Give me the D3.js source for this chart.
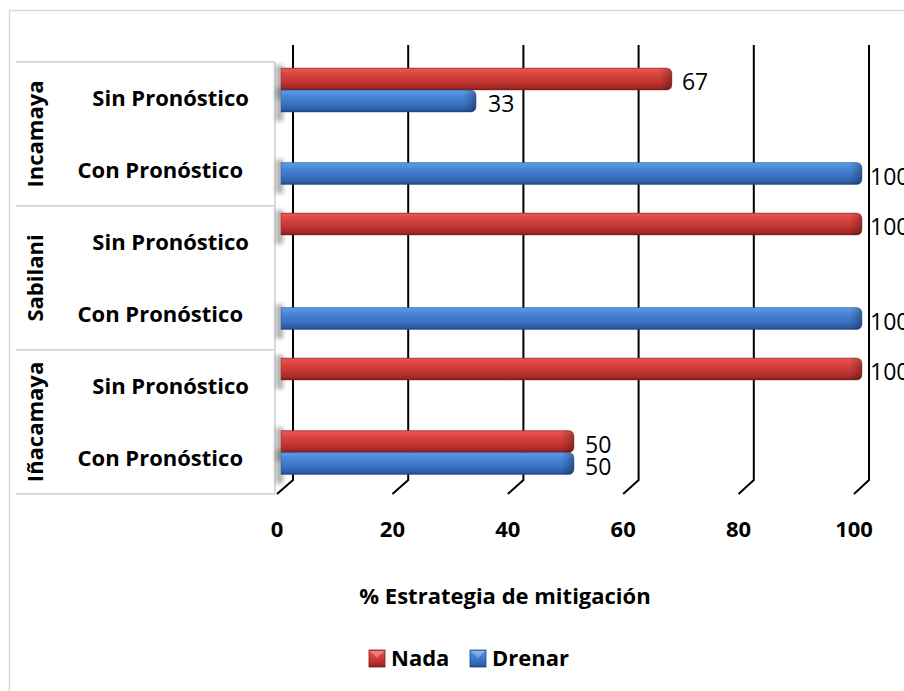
<!DOCTYPE html>
<html>
<head>
<meta charset="utf-8">
<script src="https://cdn.jsdelivr.net/npm/d3@7"></script>
<style>
  html, body { margin: 0; padding: 0; background: #ffffff; }
  svg { display: block; }
</style>
</head>
<body>
<svg id="chart" width="904" height="691"></svg>
<script>
// ---- data ----
const groups = ["Incamaya", "Sabilani", "Iñacamaya"];
const scenarios = ["Sin Pronóstico", "Con Pronóstico"];
const seriesNames = ["Nada", "Drenar"];
// one value per (group, scenario) row, top to bottom; null = no bar
const nadaValues = [67, null, 100, null, 100, 50];
const drenarValues = [33, 100, null, 100, null, 50];
const tickValues = [0, 20, 40, 60, 80, 100];
const axisTitle = "% Estrategia de mitigación";

const rows = [];
groups.forEach((g, gi) => scenarios.forEach((s, si) => {
  rows.push({ key: g + "|" + s, group: g, scenario: s, idx: gi * 2 + si });
}));
rows.forEach(r => {
  r.Nada = nadaValues[r.idx];
  r.Drenar = drenarValues[r.idx];
});

const svg = d3.select("#chart");
const FONT = "'Open Sans', 'Noto Sans', sans-serif";

// ---- defs: gradients and blur ----
const defs = svg.append("defs");
const palette = {
  Nada:   [["0%", "#c9403e"], ["7%", "#e65452"], ["30%", "#d8433f"], ["65%", "#c23532"], ["88%", "#a22826"], ["100%", "#7c1c1b"]],
  Drenar: [["0%", "#4a86d6"], ["7%", "#5a98e6"], ["30%", "#4684d6"], ["65%", "#3a71c2"], ["88%", "#2e5da6"], ["100%", "#214682"]]
};
Object.entries(palette).forEach(([name, stops]) => {
  const g = defs.append("linearGradient").attr("id", "grad-" + name)
    .attr("x1", 0).attr("y1", 0).attr("x2", 0).attr("y2", 1);
  stops.forEach(([o, c]) => g.append("stop").attr("offset", o).attr("stop-color", c));
});
const cap = defs.append("linearGradient").attr("id", "capShade")
  .attr("x1", 0).attr("y1", 0).attr("x2", 1).attr("y2", 0);
cap.append("stop").attr("offset", "0%").attr("stop-color", "#000").attr("stop-opacity", 0);
cap.append("stop").attr("offset", "100%").attr("stop-color", "#000").attr("stop-opacity", 0.28);
defs.append("filter").attr("id", "soft").attr("x", "-200%").attr("y", "-50%")
  .attr("width", "500%").attr("height", "200%")
  .append("feGaussianBlur").attr("stdDeviation", 2.2);

// ---- scales ----
const xBack = d3.scaleLinear().domain([0, 100]).range([293, 869]);   // back wall gridlines
const xFront = d3.scaleLinear().domain([0, 100]).range([277, 854]);  // floor front edge
const xBar = d3.scaleLinear().domain([0, 100]).range([286, 862]);    // bar ends
const xLabel = d3.scaleLinear().domain([0, 100]).range([300, 870]);  // value labels
const yRow = d3.scaleBand().domain(rows.map(r => r.key)).range([62, 494]);
const yBarRow = d3.scaleBand().domain(rows.map(r => r.key)).range([62, 497]);
const ySeries = d3.scaleBand().domain(seriesNames).range([6, 50]);

const gridTop = 45, gridBottom = 480, floorY = 494;
const barStart = xBar(0) - 5;

// ---- chart frame ----
svg.append("rect").attr("x", 9.5).attr("y", 10.5).attr("width", 1000).attr("height", 1000)
  .attr("fill", "none").attr("stroke", "#d9d9d9").attr("stroke-width", 1.5);

// ---- category table ----
const table = svg.append("g").attr("stroke", "#d9d9d9").attr("stroke-width", 2);
const groupEdges = [0, 2, 4].map(i => yRow(rows[i].key)).concat([yRow.range()[1]]);
table.selectAll("line.h").data(groupEdges).join("line")
  .attr("x1", 16).attr("x2", 275).attr("y1", d => d).attr("y2", d => d);
table.append("line").attr("x1", 275).attr("x2", 275)
  .attr("y1", yRow.range()[0]).attr("y2", yRow.range()[1]);

// ---- gridlines (back wall + floor diagonal) ----
svg.append("g").selectAll("path").data(tickValues).join("path")
  .attr("d", v => `M${xBack(v)},${gridTop}L${xBack(v)},${gridBottom}L${xFront(v)},${floorY}`)
  .attr("fill", "none").attr("stroke", "#000").attr("stroke-width", 2);

// ---- bars ----
const barData = [];
rows.forEach(r => seriesNames.forEach(s => {
  if (r[s] != null) barData.push({ row: r, series: s, value: r[s] });
}));
const barY = d => yBarRow(d.row.key) + ySeries(d.series);
const bh = ySeries.bandwidth();

// shadow where each bar meets the wall
svg.append("g").selectAll("rect").data(barData).join("rect")
  .attr("x", 276).attr("width", 7)
  .attr("y", d => barY(d) - 3).attr("height", bh + 12)
  .attr("fill", "#6b6b6b").attr("opacity", 0.55).attr("filter", "url(#soft)");

function barPath(d) {
  const x0 = barStart, x1 = xBar(d.value), y0 = barY(d), y1 = y0 + bh, r = 6;
  return `M${x0},${y0}H${x1 - r}Q${x1},${y0} ${x1},${y0 + r}V${y1 - r}Q${x1},${y1} ${x1 - r},${y1}H${x0}Z`;
}
const bars = svg.append("g");
bars.selectAll("path.bar").data(barData).join("path").attr("class", "bar")
  .attr("d", barPath)
  .attr("fill", d => `url(#grad-${d.series})`)
  .attr("stroke", d => d.series === "Nada" ? "#8e2220" : "#24508f")
  .attr("stroke-width", 0.7).attr("stroke-opacity", 0.6);
// darker rounded end cap
bars.selectAll("path.cap").data(barData).join("path").attr("class", "cap")
  .attr("d", d => {
    const x1 = xBar(d.value), y0 = barY(d), y1 = y0 + bh, r = 6, x0 = x1 - 12;
    return `M${x0},${y0}H${x1 - r}Q${x1},${y0} ${x1},${y0 + r}V${y1 - r}Q${x1},${y1} ${x1 - r},${y1}H${x0}Z`;
  })
  .attr("fill", "url(#capShade)");

// value labels
svg.append("g").selectAll("text").data(barData).join("text")
  .attr("x", d => xLabel(d.value))
  .attr("y", d => barY(d) + bh / 2 + 11)
  .attr("font-family", FONT).attr("font-size", 23).attr("fill", "#000")
  .text(d => d.value);

// ---- category labels ----
svg.append("g").selectAll("text").data(rows).join("text")
  .attr("x", d => d.scenario === "Sin Pronóstico" ? 249 : 243)
  .attr("y", d => yRow(d.key) + yRow.bandwidth() / 2 + 8)
  .attr("text-anchor", "end")
  .attr("font-family", FONT).attr("font-weight", "bold").attr("font-size", 22)
  .text(d => d.scenario);

svg.append("g").selectAll("text").data(groups).join("text")
  .attr("transform", (g, i) => {
    const cy = (groupEdges[i] + groupEdges[i + 1]) / 2;
    return `translate(43,${cy}) rotate(-90)`;
  })
  .attr("text-anchor", "middle")
  .attr("font-family", FONT).attr("font-weight", "bold").attr("font-size", 22)
  .text(g => g);

// ---- x tick labels ----
svg.append("g").selectAll("text").data(tickValues).join("text")
  .attr("x", v => xFront(v)).attr("y", 537)
  .attr("text-anchor", "middle")
  .attr("font-family", FONT).attr("font-weight", "bold").attr("font-size", 22)
  .text(v => v);

// ---- axis title ----
svg.append("text").attr("x", 505).attr("y", 604).attr("text-anchor", "middle")
  .attr("font-family", FONT).attr("font-weight", "bold").attr("font-size", 22)
  .text(axisTitle);

// ---- legend ----
const legend = svg.append("g").attr("transform", "translate(369,650)");
const legendX = [0, 101];
const li = legend.selectAll("g").data(seriesNames).join("g")
  .attr("transform", (d, i) => `translate(${legendX[i]},0)`);
li.append("rect").attr("width", 16).attr("height", 17)
  .attr("fill", d => `url(#grad-${d})`)
  .attr("stroke", d => d === "Nada" ? "#7c1c1b" : "#214682").attr("stroke-width", 0.8);
li.append("path").attr("d", "M1,1L15,1L8,8Z")
  .attr("fill", "#fff").attr("opacity", 0.28);
li.append("text").attr("x", 22).attr("y", 16)
  .attr("font-family", FONT).attr("font-weight", "bold").attr("font-size", 22)
  .text(d => d);
</script>
</body>
</html>
